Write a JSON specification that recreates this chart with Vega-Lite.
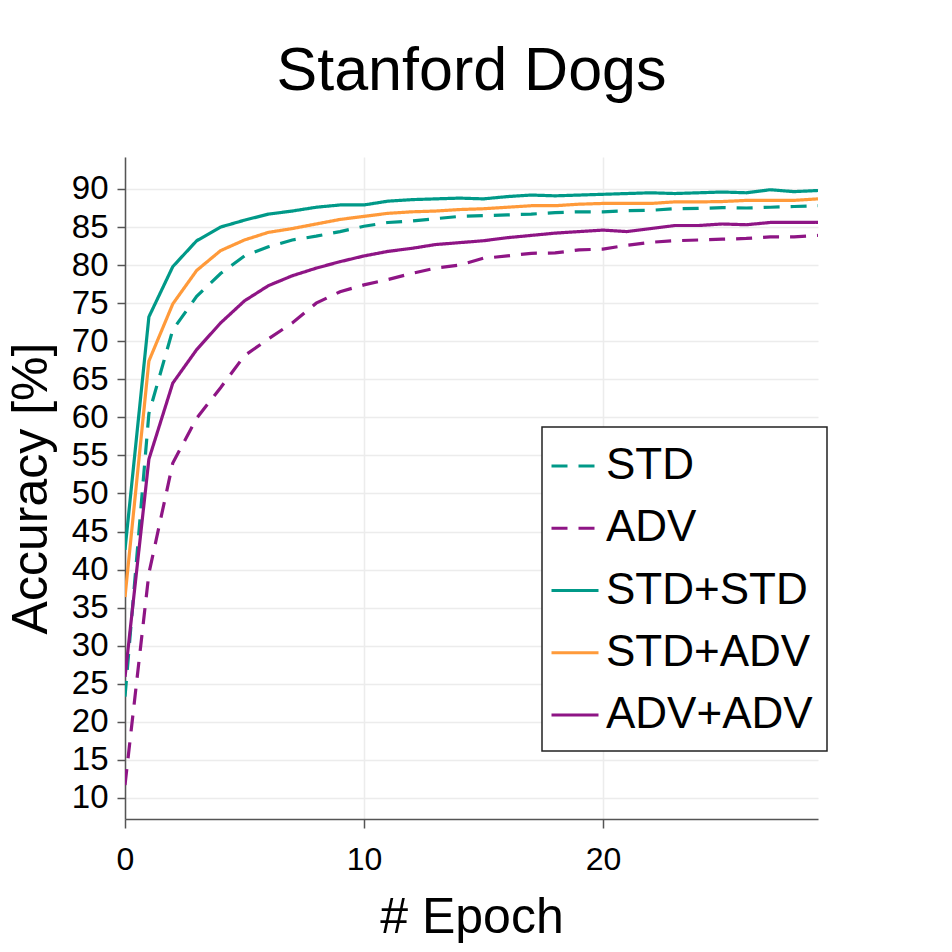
{
  "$schema": "https://vega.github.io/schema/vega-lite/v6.json",
  "autosize": {"type": "none"},
  "width": 693,
  "height": 662,
  "padding": {"left": 125, "top": 157, "right": 134, "bottom": 133},
  "background": "white",
  "title": {
    "text": "Stanford Dogs",
    "font": "Liberation Sans",
    "fontSize": 61,
    "fontWeight": "normal",
    "color": "black",
    "anchor": "middle",
    "baseline": "alphabetic",
    "offset": 6
  },
  "data": {
    "values": [
      {"epoch": 0, "series": "STD", "acc": 23.3}, {"epoch": 1, "series": "STD", "acc": 60.5}, {"epoch": 2, "series": "STD", "acc": 71.5},
      {"epoch": 3, "series": "STD", "acc": 75.9}, {"epoch": 4, "series": "STD", "acc": 78.9}, {"epoch": 5, "series": "STD", "acc": 81.2},
      {"epoch": 6, "series": "STD", "acc": 82.4}, {"epoch": 7, "series": "STD", "acc": 83.3}, {"epoch": 8, "series": "STD", "acc": 83.8},
      {"epoch": 9, "series": "STD", "acc": 84.4}, {"epoch": 10, "series": "STD", "acc": 85.1}, {"epoch": 11, "series": "STD", "acc": 85.6},
      {"epoch": 12, "series": "STD", "acc": 85.8}, {"epoch": 13, "series": "STD", "acc": 86.1}, {"epoch": 14, "series": "STD", "acc": 86.4},
      {"epoch": 15, "series": "STD", "acc": 86.5}, {"epoch": 16, "series": "STD", "acc": 86.6}, {"epoch": 17, "series": "STD", "acc": 86.7},
      {"epoch": 18, "series": "STD", "acc": 86.9}, {"epoch": 19, "series": "STD", "acc": 87.0}, {"epoch": 20, "series": "STD", "acc": 87.0},
      {"epoch": 21, "series": "STD", "acc": 87.15}, {"epoch": 22, "series": "STD", "acc": 87.2}, {"epoch": 23, "series": "STD", "acc": 87.4},
      {"epoch": 24, "series": "STD", "acc": 87.45}, {"epoch": 25, "series": "STD", "acc": 87.55}, {"epoch": 26, "series": "STD", "acc": 87.5},
      {"epoch": 27, "series": "STD", "acc": 87.6}, {"epoch": 28, "series": "STD", "acc": 87.7}, {"epoch": 29, "series": "STD", "acc": 87.8},

      {"epoch": 0, "series": "ADV", "acc": 11.7}, {"epoch": 1, "series": "ADV", "acc": 39.5}, {"epoch": 2, "series": "ADV", "acc": 54.0},
      {"epoch": 3, "series": "ADV", "acc": 59.9}, {"epoch": 4, "series": "ADV", "acc": 63.9}, {"epoch": 5, "series": "ADV", "acc": 68.1},
      {"epoch": 6, "series": "ADV", "acc": 70.3}, {"epoch": 7, "series": "ADV", "acc": 72.4}, {"epoch": 8, "series": "ADV", "acc": 75.0},
      {"epoch": 9, "series": "ADV", "acc": 76.5}, {"epoch": 10, "series": "ADV", "acc": 77.4}, {"epoch": 11, "series": "ADV", "acc": 78.1},
      {"epoch": 12, "series": "ADV", "acc": 78.9}, {"epoch": 13, "series": "ADV", "acc": 79.6}, {"epoch": 14, "series": "ADV", "acc": 80.0},
      {"epoch": 15, "series": "ADV", "acc": 80.9}, {"epoch": 16, "series": "ADV", "acc": 81.2}, {"epoch": 17, "series": "ADV", "acc": 81.55},
      {"epoch": 18, "series": "ADV", "acc": 81.6}, {"epoch": 19, "series": "ADV", "acc": 82.0}, {"epoch": 20, "series": "ADV", "acc": 82.1},
      {"epoch": 21, "series": "ADV", "acc": 82.6}, {"epoch": 22, "series": "ADV", "acc": 83.0}, {"epoch": 23, "series": "ADV", "acc": 83.2},
      {"epoch": 24, "series": "ADV", "acc": 83.3}, {"epoch": 25, "series": "ADV", "acc": 83.4}, {"epoch": 26, "series": "ADV", "acc": 83.5},
      {"epoch": 27, "series": "ADV", "acc": 83.7}, {"epoch": 28, "series": "ADV", "acc": 83.7}, {"epoch": 29, "series": "ADV", "acc": 83.9},

      {"epoch": 0, "series": "STD+STD", "acc": 42.6}, {"epoch": 1, "series": "STD+STD", "acc": 73.2}, {"epoch": 2, "series": "STD+STD", "acc": 79.8},
      {"epoch": 3, "series": "STD+STD", "acc": 83.2}, {"epoch": 4, "series": "STD+STD", "acc": 85.0}, {"epoch": 5, "series": "STD+STD", "acc": 85.9},
      {"epoch": 6, "series": "STD+STD", "acc": 86.7}, {"epoch": 7, "series": "STD+STD", "acc": 87.1}, {"epoch": 8, "series": "STD+STD", "acc": 87.6},
      {"epoch": 9, "series": "STD+STD", "acc": 87.9}, {"epoch": 10, "series": "STD+STD", "acc": 87.9}, {"epoch": 11, "series": "STD+STD", "acc": 88.4},
      {"epoch": 12, "series": "STD+STD", "acc": 88.6}, {"epoch": 13, "series": "STD+STD", "acc": 88.7}, {"epoch": 14, "series": "STD+STD", "acc": 88.8},
      {"epoch": 15, "series": "STD+STD", "acc": 88.7}, {"epoch": 16, "series": "STD+STD", "acc": 89.0}, {"epoch": 17, "series": "STD+STD", "acc": 89.2},
      {"epoch": 18, "series": "STD+STD", "acc": 89.1}, {"epoch": 19, "series": "STD+STD", "acc": 89.2}, {"epoch": 20, "series": "STD+STD", "acc": 89.3},
      {"epoch": 21, "series": "STD+STD", "acc": 89.4}, {"epoch": 22, "series": "STD+STD", "acc": 89.5}, {"epoch": 23, "series": "STD+STD", "acc": 89.4},
      {"epoch": 24, "series": "STD+STD", "acc": 89.5}, {"epoch": 25, "series": "STD+STD", "acc": 89.6}, {"epoch": 26, "series": "STD+STD", "acc": 89.5},
      {"epoch": 27, "series": "STD+STD", "acc": 89.9}, {"epoch": 28, "series": "STD+STD", "acc": 89.65}, {"epoch": 29, "series": "STD+STD", "acc": 89.8},

      {"epoch": 0, "series": "STD+ADV", "acc": 36.4}, {"epoch": 1, "series": "STD+ADV", "acc": 67.4}, {"epoch": 2, "series": "STD+ADV", "acc": 74.9},
      {"epoch": 3, "series": "STD+ADV", "acc": 79.3}, {"epoch": 4, "series": "STD+ADV", "acc": 81.9}, {"epoch": 5, "series": "STD+ADV", "acc": 83.3},
      {"epoch": 6, "series": "STD+ADV", "acc": 84.3}, {"epoch": 7, "series": "STD+ADV", "acc": 84.8}, {"epoch": 8, "series": "STD+ADV", "acc": 85.4},
      {"epoch": 9, "series": "STD+ADV", "acc": 86.0}, {"epoch": 10, "series": "STD+ADV", "acc": 86.4}, {"epoch": 11, "series": "STD+ADV", "acc": 86.8},
      {"epoch": 12, "series": "STD+ADV", "acc": 87.0}, {"epoch": 13, "series": "STD+ADV", "acc": 87.1}, {"epoch": 14, "series": "STD+ADV", "acc": 87.3},
      {"epoch": 15, "series": "STD+ADV", "acc": 87.4}, {"epoch": 16, "series": "STD+ADV", "acc": 87.6}, {"epoch": 17, "series": "STD+ADV", "acc": 87.8},
      {"epoch": 18, "series": "STD+ADV", "acc": 87.8}, {"epoch": 19, "series": "STD+ADV", "acc": 88.0}, {"epoch": 20, "series": "STD+ADV", "acc": 88.1},
      {"epoch": 21, "series": "STD+ADV", "acc": 88.1}, {"epoch": 22, "series": "STD+ADV", "acc": 88.1}, {"epoch": 23, "series": "STD+ADV", "acc": 88.3},
      {"epoch": 24, "series": "STD+ADV", "acc": 88.3}, {"epoch": 25, "series": "STD+ADV", "acc": 88.35}, {"epoch": 26, "series": "STD+ADV", "acc": 88.5},
      {"epoch": 27, "series": "STD+ADV", "acc": 88.5}, {"epoch": 28, "series": "STD+ADV", "acc": 88.5}, {"epoch": 29, "series": "STD+ADV", "acc": 88.7},

      {"epoch": 0, "series": "ADV+ADV", "acc": 25.9}, {"epoch": 1, "series": "ADV+ADV", "acc": 54.5}, {"epoch": 2, "series": "ADV+ADV", "acc": 64.5},
      {"epoch": 3, "series": "ADV+ADV", "acc": 68.9}, {"epoch": 4, "series": "ADV+ADV", "acc": 72.4}, {"epoch": 5, "series": "ADV+ADV", "acc": 75.3},
      {"epoch": 6, "series": "ADV+ADV", "acc": 77.3}, {"epoch": 7, "series": "ADV+ADV", "acc": 78.6}, {"epoch": 8, "series": "ADV+ADV", "acc": 79.6},
      {"epoch": 9, "series": "ADV+ADV", "acc": 80.45}, {"epoch": 10, "series": "ADV+ADV", "acc": 81.2}, {"epoch": 11, "series": "ADV+ADV", "acc": 81.8},
      {"epoch": 12, "series": "ADV+ADV", "acc": 82.2}, {"epoch": 13, "series": "ADV+ADV", "acc": 82.7}, {"epoch": 14, "series": "ADV+ADV", "acc": 82.95},
      {"epoch": 15, "series": "ADV+ADV", "acc": 83.2}, {"epoch": 16, "series": "ADV+ADV", "acc": 83.6}, {"epoch": 17, "series": "ADV+ADV", "acc": 83.9},
      {"epoch": 18, "series": "ADV+ADV", "acc": 84.2}, {"epoch": 19, "series": "ADV+ADV", "acc": 84.4}, {"epoch": 20, "series": "ADV+ADV", "acc": 84.6},
      {"epoch": 21, "series": "ADV+ADV", "acc": 84.4}, {"epoch": 22, "series": "ADV+ADV", "acc": 84.8}, {"epoch": 23, "series": "ADV+ADV", "acc": 85.2},
      {"epoch": 24, "series": "ADV+ADV", "acc": 85.2}, {"epoch": 25, "series": "ADV+ADV", "acc": 85.4}, {"epoch": 26, "series": "ADV+ADV", "acc": 85.3},
      {"epoch": 27, "series": "ADV+ADV", "acc": 85.6}, {"epoch": 28, "series": "ADV+ADV", "acc": 85.6}, {"epoch": 29, "series": "ADV+ADV", "acc": 85.6}
    ]
  },
  "mark": {"type": "line", "strokeWidth": 3.2, "clip": true},
  "encoding": {
    "x": {
      "field": "epoch",
      "type": "quantitative",
      "scale": {"domain": [0, 29], "nice": false, "zero": false},
      "axis": {
        "title": "# Epoch",
        "values": [0, 10, 20],
        "titleX": 346.5,
        "titleY": 113,
        "titleBaseline": "alphabetic",
        "titleAlign": "center",
        "tickSize": 9,
        "labelPadding": 16
      }
    },
    "y": {
      "field": "acc",
      "type": "quantitative",
      "scale": {"domain": [7.24, 94.2], "nice": false, "zero": false},
      "axis": {
        "title": "Accuracy [%]",
        "values": [10, 15, 20, 25, 30, 35, 40, 45, 50, 55, 60, 65, 70, 75, 80, 85, 90],
        "titleX": -79,
        "titleY": 331,
        "titleAngle": -90,
        "titleBaseline": "alphabetic",
        "titleAlign": "center",
        "tickSize": 8,
        "labelPadding": 9,
        "labelFontSize": 33
      }
    },
    "color": {
      "field": "series",
      "type": "nominal",
      "scale": {
        "domain": ["STD", "ADV", "STD+STD", "STD+ADV", "ADV+ADV"],
        "range": ["#009988", "#8e1585", "#009988", "#ff9a3a", "#8e1585"]
      },
      "legend": {"title": null}
    },
    "strokeDash": {
      "field": "series",
      "type": "nominal",
      "scale": {
        "domain": ["STD", "ADV", "STD+STD", "STD+ADV", "ADV+ADV"],
        "range": [[16, 11], [16, 11], [1, 0], [1, 0], [1, 0]]
      },
      "legend": {"title": null}
    }
  },
  "config": {
    "view": {"stroke": null},
    "font": "Liberation Sans",
    "axis": {
      "labelFont": "Liberation Sans",
      "labelFontSize": 32,
      "labelColor": "black",
      "titleFont": "Liberation Sans",
      "titleFontSize": 50,
      "titleFontWeight": "normal",
      "titleColor": "black",
      "domainColor": "#555555",
      "domainWidth": 1.5,
      "tickColor": "#555555",
      "tickWidth": 1.5,
      "grid": true,
      "gridColor": "#ececec",
      "gridWidth": 1.5,
      "labelFlush": false,
      "labelOverlap": false
    },
    "legend": {
      "orient": "none",
      "legendX": 417,
      "legendY": 270,
      "symbolType": "stroke",
      "symbolSize": 2209,
      "symbolStrokeWidth": 3,
      "symbolOffset": -6,
      "labelFont": "Liberation Sans",
      "labelFontSize": 44,
      "labelColor": "black",
      "labelOffset": 6,
      "labelLimit": 400,
      "rowPadding": 15.25,
      "padding": 14,
      "strokeColor": "#222222",
      "strokeWidth": 1.5,
      "fillColor": "white",
      "cornerRadius": 0
    }
  }
}
